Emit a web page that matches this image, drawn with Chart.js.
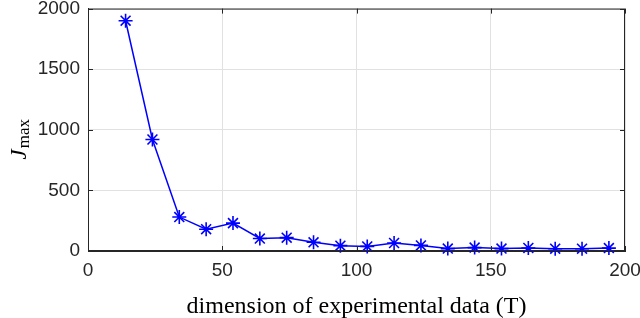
<!DOCTYPE html>
<html>
<head>
<meta charset="utf-8">
<script src="https://cdn.jsdelivr.net/npm/chart.js@4.4.1/dist/chart.umd.min.js"></script>
<style>
  html, body { margin: 0; padding: 0; background: #fff; }
  #wrap { width: 640px; height: 318px; }
</style>
</head>
<body>
<div id="wrap"><canvas id="jmaxChart" width="640" height="318"></canvas></div>
<script>
// dimension of experimental data (T)
const dims = [14, 24, 34, 44, 54, 64, 74, 84, 94, 104, 114, 124, 134, 144, 154, 164, 174, 184, 194];
// J_max values
const jmax = [1900, 920, 280, 180, 230, 103, 110, 72, 44, 38, 66, 46, 20, 28, 20, 25, 19, 19, 24];
const xTicks = [0, 50, 100, 150, 200];
const yTicks = [0, 500, 1000, 1500, 2000];

const axisColor = '#262626';
const gridColor = '#e1e1e1';

// box round the plot + small inward ticks, MATLAB style
const boxPlugin = {
    id: 'boxPlugin',
    afterDatasetsDraw(chart) {
        const { ctx, chartArea: a, scales } = chart;
        ctx.save();
        ctx.strokeStyle = axisColor;
        ctx.lineWidth = 1;
        ctx.strokeRect(a.left + 0.5, a.top + 0.5, a.right - a.left - 1, a.bottom - a.top - 1);
        ctx.beginPath();
        xTicks.forEach(v => {
            const x = Math.round(scales.x.getPixelForValue(v)) + 0.5;
            ctx.moveTo(x, a.bottom); ctx.lineTo(x, a.bottom - 5);
            ctx.moveTo(x, a.top); ctx.lineTo(x, a.top + 5);
        });
        yTicks.forEach(v => {
            const y = Math.round(scales.y.getPixelForValue(v)) + 0.5;
            ctx.moveTo(a.left, y); ctx.lineTo(a.left + 5, y);
            ctx.moveTo(a.right, y); ctx.lineTo(a.right - 5, y);
        });
        ctx.stroke();
        ctx.restore();
    },
    afterDraw(chart) {
        // y title J_max (italic J, roman subscript)
        const { ctx, chartArea: a } = chart;
        ctx.save();
        ctx.translate(20, (a.top + a.bottom) / 2 + 10);
        ctx.rotate(-Math.PI / 2);
        ctx.fillStyle = '#000';
        ctx.textBaseline = 'middle';
        ctx.font = 'italic 23px "Liberation Serif"';
        const wJ = ctx.measureText('J').width;
        ctx.font = '17px "Liberation Serif"';
        const wS = ctx.measureText('max').width;
        const start = -(wJ + wS) / 2;
        ctx.textAlign = 'left';
        ctx.font = 'italic 23px "Liberation Serif"';
        ctx.fillText('J', start, 0);
        ctx.font = '17px "Liberation Serif"';
        ctx.fillText('max', start + wJ + 1, 5);
        ctx.restore();
    }
};

const ctx = document.getElementById('jmaxChart').getContext('2d');
new Chart(ctx, {
    type: 'line',
    data: {
        datasets: [{
            data: dims.map((d, i) => ({ x: d, y: jmax[i] })),
            borderColor: '#0000ff',
            borderWidth: 1.5,
            pointStyle: 'star',
            pointRadius: 7,
            pointBorderColor: '#0000ff',
            pointBorderWidth: 1.6,
            pointBackgroundColor: '#0000ff',
            tension: 0,
            clip: false
        }]
    },
    options: {
        responsive: false,
        animation: false,
        layout: { padding: { top: 8, right: 15, left: 0, bottom: 0 } },
        plugins: {
            legend: { display: false },
            tooltip: { enabled: false }
        },
        scales: {
            x: {
                type: 'linear',
                min: 0,
                max: 200,
                afterBuildTicks: s => { s.ticks = xTicks.map(v => ({ value: v })); },
                afterFit: s => { s.height = 67; s.paddingLeft = 0; s.paddingRight = 0; },
                grid: { color: gridColor, drawTicks: false },
                border: { color: axisColor },
                ticks: {
                    padding: 8,
                    color: '#262626',
                    font: { family: '"Liberation Sans"', size: 19 },
                    maxRotation: 0,
                    callback: v => String(v)
                },
                title: {
                    display: true,
                    text: 'dimension of experimental data (T)',
                    color: '#000',
                    font: { family: '"Liberation Serif"', size: 24 },
                    padding: { top: 0, bottom: -3 }
                }
            },
            y: {
                min: 0,
                max: 2000,
                afterBuildTicks: s => { s.ticks = yTicks.map(v => ({ value: v })); },
                afterFit: s => { s.width = 88; s.paddingTop = 0; s.paddingBottom = 0; },
                grid: { color: gridColor, drawTicks: false },
                border: { color: axisColor },
                ticks: {
                    padding: 8,
                    color: '#262626',
                    font: { family: '"Liberation Sans"', size: 19 },
                    callback: v => String(v)
                }
            }
        }
    },
    plugins: [boxPlugin]
});
</script>
</body>
</html>
